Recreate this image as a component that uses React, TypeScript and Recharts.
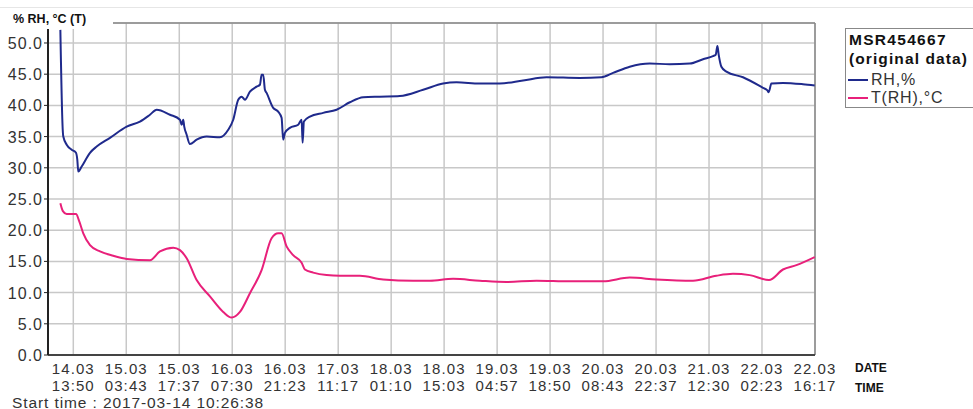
import {
  CartesianGrid,
  Line,
  LineChart,
  ReferenceLine,
  XAxis,
  YAxis,
} from "recharts";

// time axis is in hours counted from 14.03 00:00

const tickDates = ["14.03", "15.03", "15.03", "16.03", "16.03", "17.03", "18.03", "18.03", "19.03", "19.03", "20.03", "20.03", "21.03", "22.03", "22.03"];
const tickTimes = ["13:50", "03:43", "17:37", "07:30", "21:23", "11:17", "01:10", "15:03", "04:57", "18:50", "08:43", "22:37", "12:30", "02:23", "16:17"];
const tickHours = [13.833, 27.717, 41.617, 55.5, 69.383, 83.283, 97.167, 111.05, 124.95, 138.833, 152.717, 166.617, 180.5, 194.383, 208.283];

const yTicks = [0, 5, 10, 15, 20, 25, 30, 35, 40, 45, 50];

const rhHours = [
  10.44, 11.06, 11.21, 12.1, 13.41, 14.54, 14.88, 15.14, 16.03, 18.21, 19.96, 23.45, 27.83, 31.31, 33.93,
  35.69, 39.17, 41.79, 42.24, 42.66, 42.92, 43.55, 44.41, 46.17, 48.79, 52.28, 54.45, 55.76, 57.07, 57.96,
  58.83, 60.14, 61.89, 62.76, 63.2, 63.62, 64.07, 64.51, 66.24, 67.55, 68.44, 68.86, 69.31, 70.62, 72.8,
  73.69, 73.95, 74.29, 75.86, 79.35, 82.86, 86.34, 89.83, 94.2, 99.44, 105.55, 110.79, 114.3, 120.41,
  125.65, 131.75, 137.89, 146.61, 152.3, 155.34, 159.71, 164.96, 170.2, 175.44, 178.92, 181.54, 182.25,
  182.7, 183.04, 183.74, 185.06, 189.41, 194.65, 195.8, 196.14, 196.85, 199.89, 205.13, 208.2,
];
const rhValues = [
  52.1, 36.1, 35.0, 33.7, 32.9, 32.4, 31.3, 29.4, 30.2, 32.4, 33.4, 34.8, 36.6, 37.4, 38.5,
  39.3, 38.5, 37.7, 36.9, 37.7, 36.6, 35.3, 33.8, 34.5, 35.0, 34.9, 36.1, 37.7, 40.9, 41.4,
  40.9, 42.2, 43.0, 43.3, 44.9, 44.9, 42.5, 42.0, 39.6, 39.0, 38.0, 34.5, 35.6, 36.4, 36.9,
  37.7, 34.0, 37.4, 38.2, 38.8, 39.3, 40.5, 41.3, 41.4, 41.5, 42.5, 43.5, 43.7, 43.5,
  43.5, 44.0, 44.5, 44.4, 44.5, 45.2, 46.2, 46.7, 46.6, 46.7, 47.4, 47.9, 48.1,
  49.5, 48.1, 46.2, 45.4, 44.5, 42.8, 42.4, 42.1, 43.5, 43.6, 43.4, 43.2,
];

const tHours = [
  10.44, 11.06, 12.1, 14.54, 15.4, 16.45, 18.21, 20.83, 24.31, 27.83, 33.93, 36.55, 40.04, 41.79, 43.55,
  46.17, 49.65, 53.14, 55.34, 57.52, 60.14, 63.2, 65.82, 67.55, 68.44, 69.75, 71.48, 73.69, 74.55, 76.72,
  80.23, 83.72, 88.96, 95.07, 102.93, 107.3, 113.41, 120.41, 127.41, 135.27, 143.99, 152.72, 159.71,
  166.71, 176.3, 182.43, 186.78, 191.16, 196.22, 199.89, 203.4, 208.2,
];
const tValues = [
  24.3, 23.1, 22.6, 22.6, 21.4, 19.5, 17.6, 16.6, 15.9, 15.4, 15.2, 16.6, 17.2, 16.8, 15.5,
  12.0, 9.4, 6.9, 6.0, 6.9, 9.9, 13.6, 18.7, 19.5, 19.5, 17.4, 16.0, 14.8, 13.7, 13.2,
  12.8, 12.7, 12.7, 12.1, 11.9, 11.9, 12.2, 11.9, 11.7, 11.9, 11.8, 11.8, 12.4,
  12.1, 11.9, 12.7, 13.0, 12.8, 12.0, 13.7, 14.4, 15.7,
];

const rhData = rhHours.map((h, i) => ({ h, v: rhValues[i] }));
const tData = tHours.map((h, i) => ({ h, v: tValues[i] }));

const X_MIN = 7.2;
const X_MAX = 208.283;
const Y_MAX = 53.2;

const FONT = "'Liberation Sans', Arial, sans-serif";
const RH_COLOR = "#1f2a8c";
const T_COLOR = "#e8207a";

function XTick({ x, y, payload }: any) {
  const i = tickHours.indexOf(payload.value);
  return (
    <text
      x={x}
      y={y}
      textAnchor="middle"
      fontFamily={FONT}
      fontSize={15}
      letterSpacing={1.1}
      fill="#333"
    >
      <tspan x={x} dy={18.5}>{tickDates[i]}</tspan>
      <tspan x={x} dy={17}>{tickTimes[i]}</tspan>
    </text>
  );
}

function YTick({ x, y, payload }: any) {
  return (
    <text
      x={x}
      y={y}
      dy={6}
      textAnchor="end"
      fontFamily={FONT}
      fontSize={16}
      letterSpacing={1}
      fill="#333"
    >
      {payload.value.toFixed(1)}
    </text>
  );
}

export default function App() {
  return (
    <div
      style={{
        position: "absolute",
        left: 0,
        top: 0,
        width: 973,
        height: 409,
        background: "#fff",
        overflow: "hidden",
        fontFamily: FONT,
      }}
    >
      <div style={{ position: "absolute", left: 0, top: 7, width: 973, borderTop: "1px solid #e6e6e6" }} />
      <LineChart
        width={973}
        height={409}
        margin={{ top: 23, right: 158, bottom: 0, left: 0 }}
      >
        <CartesianGrid stroke="#c8c8c8" strokeWidth={1.5} />
        <XAxis
          type="number"
          dataKey="h"
          domain={[X_MIN, X_MAX]}
          ticks={tickHours}
          tick={<XTick />}
          tickLine={false}
          tickSize={0}
          tickMargin={0}
          height={54}
          axisLine={{ stroke: "#444", strokeWidth: 2 }}
          allowDataOverflow
          interval={0}
        />
        <YAxis
          type="number"
          domain={[0, Y_MAX]}
          ticks={yTicks}
          tick={<YTick />}
          tickLine={{ stroke: "#222" }}
          tickSize={4}
          tickMargin={1}
          width={48}
          axisLine={{ stroke: "#222", strokeWidth: 2 }}
          allowDataOverflow
          interval={0}
        />
        <ReferenceLine y={Y_MAX} stroke="#888" strokeWidth={1.5} />
        <ReferenceLine x={X_MAX} stroke="#888" strokeWidth={1.5} />
        <Line
          data={rhData}
          dataKey="v"
          type="monotone"
          stroke={RH_COLOR}
          strokeWidth={2}
          dot={false}
          isAnimationActive={false}
        />
        <Line
          data={tData}
          dataKey="v"
          type="monotone"
          stroke={T_COLOR}
          strokeWidth={2}
          dot={false}
          isAnimationActive={false}
        />
      </LineChart>

      {/* axis title sits in a white box over the top-left corner */}
      <div
        style={{
          position: "absolute",
          left: 10,
          top: 8,
          width: 100,
          height: 21,
          background: "#fff",
          fontSize: 12.5,
          fontWeight: "bold",
          color: "#111",
          paddingLeft: 3,
          lineHeight: "23px",
          whiteSpace: "nowrap",
        }}
      >
        % RH, °C (T)
      </div>

      {/* legend */}
      <div
        style={{
          position: "absolute",
          left: 845,
          top: 28,
          width: 140,
          height: 78,
          border: "1px solid #888",
          color: "#111",
          whiteSpace: "nowrap",
        }}
      >
        <div style={{ position: "absolute", left: 3, top: 1, fontSize: 15.5, fontWeight: "bold", letterSpacing: 1.3, lineHeight: "19px" }}>
          MSR454667
        </div>
        <div style={{ position: "absolute", left: 3, top: 20, fontSize: 15.5, fontWeight: "bold", letterSpacing: 1.1, lineHeight: "19px" }}>
          (original data)
        </div>
        <div style={{ position: "absolute", left: 2, top: 41, display: "flex", alignItems: "center", fontSize: 16, letterSpacing: 0.8, lineHeight: "19px", color: "#333" }}>
          <span style={{ display: "inline-block", width: 20, borderTop: `2px solid ${RH_COLOR}`, marginRight: 3 }} />
          RH,%
        </div>
        <div style={{ position: "absolute", left: 2, top: 59, display: "flex", alignItems: "center", fontSize: 16, letterSpacing: 0.8, lineHeight: "19px", color: "#333" }}>
          <span style={{ display: "inline-block", width: 20, borderTop: `2px solid ${T_COLOR}`, marginRight: 3 }} />
          T(RH),°C
        </div>
      </div>

      <div style={{ position: "absolute", left: 855, top: 361, fontSize: 12, fontWeight: "bold", color: "#111" }}>DATE</div>
      <div style={{ position: "absolute", left: 855, top: 381, fontSize: 12, fontWeight: "bold", color: "#111" }}>TIME</div>

      <div
        style={{
          position: "absolute",
          left: 12,
          top: 394.5,
          fontSize: 15.5,
          letterSpacing: 0.9,
          color: "#333",
          whiteSpace: "nowrap",
          lineHeight: "16px",
        }}
      >
        Start time : 2017-03-14 10:26:38
      </div>
    </div>
  );
}
